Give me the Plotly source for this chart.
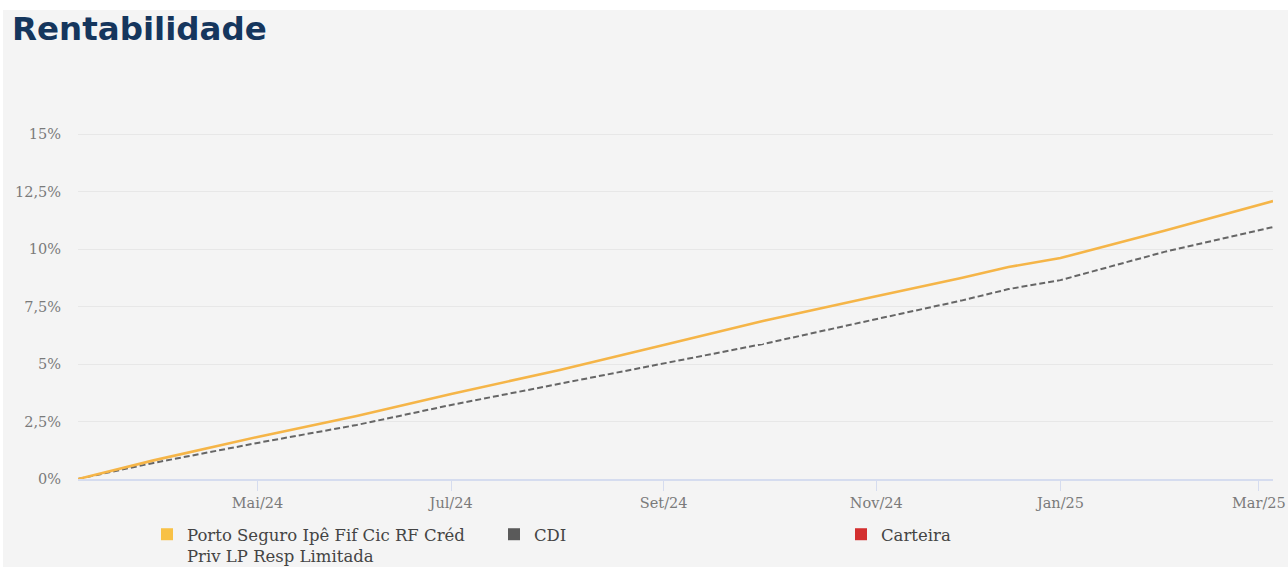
import plotly.graph_objects as go

# ---- data ----
dates = ["2024-03-07", "2024-04-01", "2024-05-02", "2024-06-03", "2024-07-01",
         "2024-08-01", "2024-09-02", "2024-10-01", "2024-11-01", "2024-12-02",
         "2024-12-16", "2024-12-23", "2025-01-02", "2025-02-03", "2025-03-05",
         "2025-03-10"]
fund = [0.0, 0.81, 1.83, 2.74, 3.70, 4.74, 5.83, 6.87, 7.91, 8.74,
        9.22, 9.39, 9.61, 10.80, 11.90, 12.09]
cdi = [0.0, 0.70, 1.57, 2.35, 3.22, 4.15, 5.04, 5.87, 6.91, 7.76,
       8.26, 8.43, 8.65, 9.88, 10.81, 10.96]
holidays = ["2024-03-29", "2024-05-01", "2024-05-30", "2024-11-15", "2024-11-20",
            "2024-12-25", "2025-01-01", "2025-03-03", "2025-03-04"]
x_tickvals = ["2024-05-02", "2024-07-01", "2024-09-02", "2024-11-04",
              "2025-01-02", "2025-03-05"]
x_ticktext = ["Mai/24", "Jul/24", "Set/24", "Nov/24", "Jan/25", "Mar/25"]
y_tickvals = [0, 2.5, 5, 7.5, 10, 12.5, 15]
y_ticktext = ["0%", "2,5%", "5%", "7,5%", "10%", "12,5%", "15%"]
fund_name = "Porto Seguro Ipê Fif Cic RF Créd<br>Priv LP Resp Limitada"
legend_names = [fund_name, "CDI", "Carteira"]
legend_colors = ["#f8c146", "#5a5a5a", "#d32f2f"]

W, H = 1288, 567
L, R, T, B = 78, 15, 133, 88
plot_w = W - L - R
plot_h = H - T - B

fig = go.Figure()
fig.add_trace(go.Scatter(x=dates, y=cdi, mode="lines", showlegend=False,
                         line=dict(color="#666666", width=2, dash="6px,3px")))
fig.add_trace(go.Scatter(x=dates, y=fund, mode="lines", showlegend=False,
                         line=dict(color="#f5b548", width=2.6)))
for name, col in zip(legend_names, legend_colors):
    fig.add_trace(go.Scatter(x=[None], y=[None], mode="markers", name=name,
                             marker=dict(symbol="square", size=12, color=col)))


def px_x(p):
    return (p - L) / plot_w


def px_y(p):
    return (H - B - p) / plot_h


fig.add_shape(type="rect", xref="paper", yref="paper", layer="below",
              x0=px_x(3), x1=px_x(W + 5), y0=px_y(H + 5), y1=px_y(10),
              fillcolor="#f4f4f4", line=dict(width=0))

fig.update_layout(
    width=W, height=H,
    margin=dict(l=L, r=R, t=T, b=B, autoexpand=False),
    paper_bgcolor="#ffffff",
    plot_bgcolor="#f4f4f4",
    title=dict(text="<b>Rentabilidade</b>", x=12 / W, xanchor="left",
               xref="container", yref="container", y=1 - 29 / H, yanchor="middle",
               font=dict(family="DejaVu Sans", size=32.5, color="#15365d")),
    xaxis=dict(
        range=[dates[0], dates[-1]],
        rangebreaks=[dict(bounds=["sat", "mon"]), dict(values=holidays)],
        tickvals=x_tickvals, ticktext=x_ticktext,
        showgrid=False, zeroline=False, automargin=False,
        ticklabeloverflow="allow",
        showline=True, linecolor="#d5dcef", linewidth=1.5,
        ticks="outside", ticklen=10, tickcolor="#d5dcef", tickwidth=1,
        tickfont=dict(family="DejaVu Serif", size=14.5, color="#7a7a7a"),
    ),
    yaxis=dict(
        range=[0, 15.05],
        tickvals=y_tickvals, ticktext=y_ticktext,
        showgrid=True, gridcolor="#e7e7e7", gridwidth=1,
        zeroline=False, showline=False, automargin=False,
        ticks="outside", ticklen=13, tickcolor="rgba(0,0,0,0)",
        tickfont=dict(family="DejaVu Serif", size=14.5, color="#7a7a7a"),
    ),
    legend=dict(orientation="h", x=px_x(147), xanchor="left",
                y=px_y(517), yanchor="top", valign="top",
                entrywidth=302, entrywidthmode="pixels",
                bgcolor="rgba(0,0,0,0)",
                font=dict(family="DejaVu Serif", size=16.5, color="#444444")),
)

fig.write_html("out.html",
               config={"displayModeBar": False},
               post_script="document.body.style.margin='0';"
                           "document.body.style.overflow='hidden';")
